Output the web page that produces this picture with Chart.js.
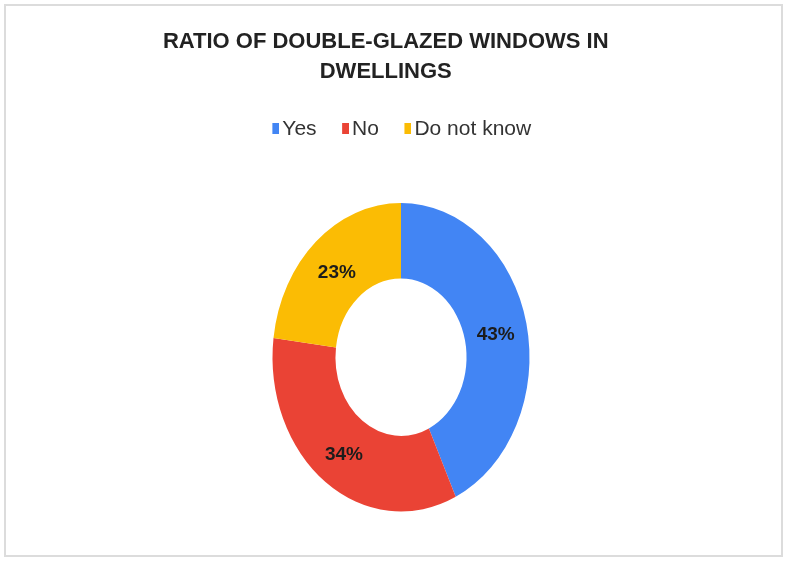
<!DOCTYPE html>
<html>
<head>
<meta charset="utf-8">
<script src="https://cdn.jsdelivr.net/npm/chart.js@4/dist/chart.umd.min.js"></script>
<style>
  html, body { margin: 0; padding: 0; background: #ffffff; }
  #wrap { position: relative; width: 788px; height: 566px; }
</style>
</head>
<body>
<div id="wrap"><canvas id="chart" width="788" height="566"></canvas></div>
<script>
// Survey answers and their shares (percent)
const categories = ['Yes', 'No', 'Do not know'];
const shares = [43, 34, 23];
const sliceColors = ['#4285F4', '#EA4335', '#FBBC04'];
const titleLines = ['RATIO OF DOUBLE-GLAZED WINDOWS IN     ', 'DWELLINGS     '];

// Vertical stretch applied to the ring (the ring is drawn as an ellipse)
const RING_STRETCH = 1.2;

// Small legend swatch: a 7x11 colour block at the right side of a 16px-wide tile,
// so the swatch sits close to its label text.
function swatch(color) {
  const c = document.createElement('canvas');
  c.width = 16;
  c.height = 11;
  const g = c.getContext('2d');
  g.fillStyle = color;
  g.fillRect(9, 0, 7, 11);
  return c;
}

const ringStretch = {
  id: 'ringStretch',
  beforeDatasetsDraw(chart) {
    const arc = chart.getDatasetMeta(0).data[0];
    const ctx = chart.ctx;
    ctx.save();
    ctx.translate(arc.x, arc.y);
    ctx.scale(1, RING_STRETCH);
    ctx.translate(-arc.x, -arc.y);
  },
  afterDatasetsDraw(chart) {
    const ctx = chart.ctx;
    ctx.restore();
    // percentage labels at each slice centroid, mapped through the same stretch
    const meta = chart.getDatasetMeta(0);
    ctx.save();
    ctx.font = 'bold 19px "Liberation Sans", Arial, sans-serif';
    ctx.fillStyle = '#1c1c1c';
    ctx.textAlign = 'center';
    ctx.textBaseline = 'middle';
    meta.data.forEach((arc, i) => {
      const p = arc.tooltipPosition();
      const y = arc.y + (p.y - arc.y) * RING_STRETCH;
      ctx.fillText(shares[i] + '%', p.x, y + 3);
    });
    ctx.restore();
  }
};

const frame = {
  id: 'frame',
  beforeDraw(chart) {
    const ctx = chart.ctx;
    ctx.save();
    ctx.strokeStyle = '#dcdcdc';
    ctx.lineWidth = 2;
    ctx.strokeRect(5, 5, 777, 551);
    ctx.restore();
  }
};

const baseLabels = Chart.overrides.doughnut.plugins.legend.labels.generateLabels;

new Chart(document.getElementById('chart'), {
  type: 'doughnut',
  data: {
    labels: categories,
    datasets: [{
      data: shares,
      backgroundColor: sliceColors,
      borderWidth: 0
    }]
  },
  options: {
    responsive: false,
    animation: false,
    radius: 128.5,
    cutout: '51%',
    layout: { padding: { left: 14, right: 0, top: 0, bottom: 1 } },
    plugins: {
      title: {
        display: true,
        text: titleLines,
        color: '#222222',
        font: { family: '"Liberation Sans", Arial, sans-serif', size: 22, weight: 'bold', lineHeight: 1.3636 },
        padding: { top: 27, bottom: 7.5 }
      },
      legend: {
        display: true,
        position: 'top',
        labels: {
          color: '#333333',
          font: { family: '"Liberation Sans", Arial, sans-serif', size: 21 },
          usePointStyle: true,
          boxWidth: 1,
          boxHeight: 11,
          padding: 24,
          generateLabels(chart) {
            return baseLabels(chart).map((item, i) => {
              item.pointStyle = swatch(sliceColors[i]);
              return item;
            });
          }
        }
      },
      tooltip: { enabled: false }
    }
  },
  plugins: [frame, ringStretch]
});
</script>
</body>
</html>
